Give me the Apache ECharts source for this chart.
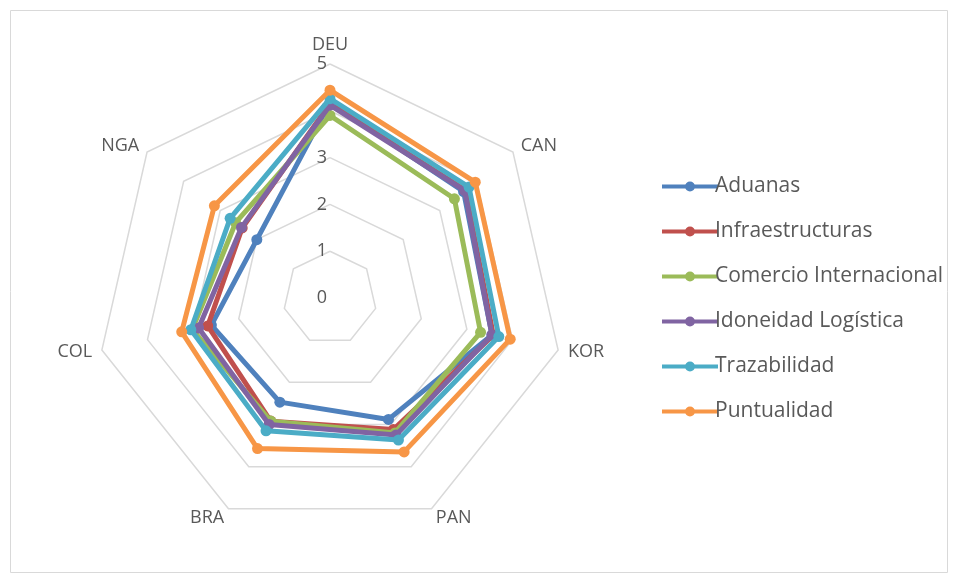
<!DOCTYPE html>
<html>
<head>
<meta charset="utf-8">
<script src="https://cdn.jsdelivr.net/npm/echarts@6/dist/echarts.min.js"></script>
<style>
html,body{margin:0;padding:0;background:#fff;}
#c{width:956px;height:582px;}
</style>
</head>
<body>
<div id="c"></div>
<script>
// clockwise from the top
var countries = ['DEU', 'CAN', 'KOR', 'PAN', 'BRA', 'COL', 'NGA'];
var seriesNames = ['Aduanas', 'Infraestructuras', 'Comercio Internacional', 'Idoneidad Logística', 'Trazabilidad', 'Puntualidad'];
var aduanas = [4.18, 3.65, 3.55, 2.88, 2.47, 2.60, 2.00];
var infraestructuras = [4.15, 3.70, 3.58, 3.12, 2.92, 2.68, 2.40];
var comercio = [3.90, 3.40, 3.30, 3.20, 2.92, 3.02, 2.58];
var idoneidad = [4.12, 3.68, 3.55, 3.25, 3.00, 2.88, 2.42];
var trazabilidad = [4.26, 3.80, 3.70, 3.37, 3.15, 3.05, 2.73];
var puntualidad = [4.44, 3.97, 3.95, 3.65, 3.57, 3.25, 3.16];
var scaleMax = 5;

var allValues = [aduanas, infraestructuras, comercio, idoneidad, trazabilidad, puntualidad];
var colors = ['#4F81BD', '#C0504D', '#9BBB59', '#8064A2', '#4BACC6', '#F79646'];

// ECharts lays indicators counter-clockwise; reorder to get a clockwise layout
var order = [0].concat(countries.slice(1).map(function (_, i) { return countries.length - 1 - i; }));

var chart = echarts.init(document.getElementById('c'));
var indicators = order.map(function (idx, i) {
  var o = { name: countries[idx], min: 0, max: scaleMax };
  if (i === 0) {
    o.axisLabel = { show: true, color: '#595959', fontSize: 18, fontFamily: 'Open Sans', margin: 3 };
  }
  return o;
});

var series = seriesNames.map(function (n, i) {
  return {
    type: 'radar',
    name: n,
    symbol: 'circle',
    symbolSize: 11,
    itemStyle: { color: colors[i] },
    lineStyle: { width: 5, color: colors[i] },
    z: 2 + i,
    data: [{ name: n, value: order.map(function (idx) { return allValues[i][idx]; }) }]
  };
});

var legendIcon = 'path://M0,3H56V7H0Z M23,5 A5,5 0 1,1 33,5 A5,5 0 1,1 23,5Z';

chart.setOption({
  animation: false,
  color: colors,
  graphic: [{
    type: 'rect',
    shape: { x: 10.5, y: 10.5, width: 937, height: 562 },
    style: { fill: 'none', stroke: '#D9D9D9', lineWidth: 1 },
    silent: true
  }],
  legend: {
    orient: 'vertical',
    left: 657,
    top: 171,
    itemWidth: 56,
    itemHeight: 11,
    itemGap: 24,
    icon: legendIcon,
    textStyle: { color: '#595959', fontSize: 21, fontFamily: 'Open Sans', padding: [0, 0, 0, -8] },
    data: seriesNames
  },
  radar: {
    center: [330, 298],
    radius: 234,
    startAngle: 90,
    splitNumber: 5,
    shape: 'polygon',
    indicator: indicators,
    axisName: { color: '#595959', fontSize: 18, fontFamily: 'Open Sans' },
    nameGap: 10,
    axisLine: { show: false },
    axisTick: { show: false },
    axisLabel: { show: false },
    splitLine: { lineStyle: { color: '#D9D9D9', width: 1.5 } },
    splitArea: { show: false }
  },
  series: series
});
</script>
</body>
</html>
